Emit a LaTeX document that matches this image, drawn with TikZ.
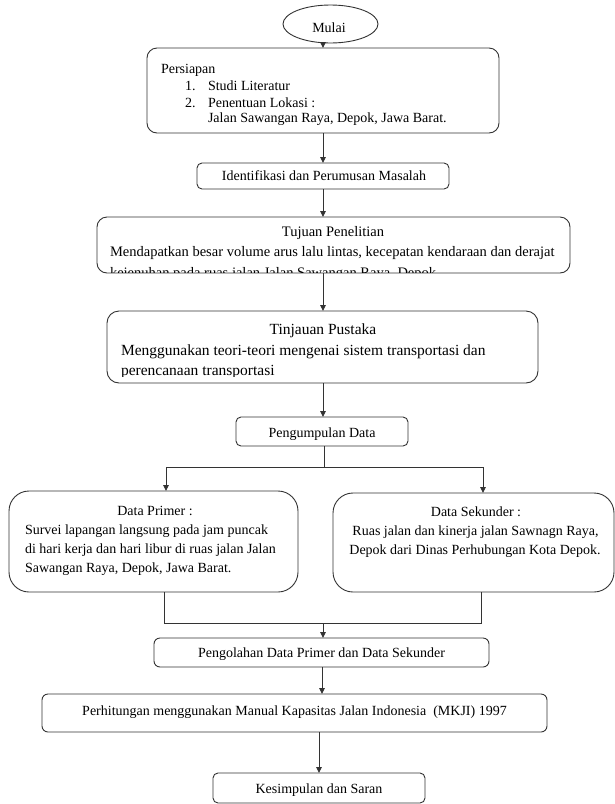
\documentclass[tikz,border=0pt]{standalone}
\usepackage{fontspec}
\setmainfont{Liberation Serif}
\usetikzlibrary{shapes.geometric,arrows.meta}
\begin{document}
\begin{tikzpicture}[x=1pt,y=-1pt,
  box/.style={draw=black!80,line width=0.9pt,rectangle,inner sep=0pt,outer sep=0pt},
  txt/.style={inner sep=0pt,outer sep=0pt,font=\fontsize{14}{16}\selectfont,text=black},
  midtxt/.style={txt,font=\fontsize{14.5}{17}\selectfont},
  bigtxt/.style={txt,font=\fontsize{15.5}{18}\selectfont},
  arr/.style={draw=black!80,line width=0.9pt,-{Triangle[length=6pt,width=5.5pt]}},
  ln/.style={draw=black!80,line width=0.9pt}]
\useasboundingbox (0,0) rectangle (615,804);
\fill[white] (0,0) rectangle (615,804);

% boxes
\node[box,ellipse,minimum width=95pt,minimum height=38pt] (mulai) at (330.5,24) {};
\node[box,rounded corners=10pt,minimum width=352pt,minimum height=85pt] (persiapan) at (323,90.5) {};
\node[box,rounded corners=5pt,minimum width=252pt,minimum height=26pt] (ident) at (323,176) {};
\node[box,rounded corners=10pt,minimum width=473pt,minimum height=56pt] (tujuan) at (333.5,245) {};
\node[box,rounded corners=12pt,minimum width=431pt,minimum height=72pt] (tinjauan) at (322.5,347) {};
\node[box,rounded corners=5pt,minimum width=172pt,minimum height=29pt] (kumpul) at (322,431.5) {};
\node[box,rounded corners=20pt,minimum width=289pt,minimum height=101pt] (primer) at (153.5,541.5) {};
\node[box,rounded corners=20pt,minimum width=281pt,minimum height=99pt] (sekunder) at (473.5,542.5) {};
\node[box,rounded corners=6pt,minimum width=335pt,minimum height=29pt] (olah) at (321.5,652.5) {};
\node[box,rounded corners=6pt,minimum width=505pt,minimum height=38pt] (hitung) at (294.5,713) {};
\node[box,rounded corners=5pt,minimum width=212pt,minimum height=30pt] (simpul) at (319,788) {};

% connectors
\coordinate (ax) at (323,0);
\coordinate (bx) at (322,0);
\coordinate (cx) at (319,0);
\draw[arr] (mulai.south -| persiapan.north) -- (persiapan.north);
\draw[arr] (persiapan.south) -- (ident.north);
\draw[arr] (ident.south) -- (ident.south |- tujuan.north);
\draw[arr] (tujuan.south -| ax) -- (tinjauan.north -| ax);
\draw[arr] (tinjauan.south -| ax) -- (kumpul.north -| ax);
\coordinate (sm) at (324,467);
\coordinate (sl) at (166,467);
\coordinate (sr) at (483,467);
\draw[ln] (kumpul.south -| sm) -- (sm);
\draw[arr] (sm) -- (sl) -- (sl |- primer.north);
\draw[arr] (sm) -- (sr) -- (sr |- sekunder.north);
\coordinate (ml) at (164,623);
\coordinate (mr) at (481,623);
\coordinate (mm) at (323,623);
\draw[ln] (primer.south -| ml) -- (ml) -- (mr) -- (sekunder.south -| mr);
\draw[arr] (mm) -- (olah.north -| mm);
\draw[arr] (olah.south -| bx) -- (hitung.north -| bx);
\draw[arr] (hitung.south -| cx) -- (simpul.north -| cx);

% texts
\node[txt,anchor=base] (tmulai) at (329,32) {Mulai};
\node[txt,anchor=base west] (tp0) at (161,73) {Persiapan};
\node[txt,anchor=base west] (tp1n) at (185,90) {1.};
\node[txt,anchor=base west] (tp1) at (208,90) {Studi Literatur};
\node[txt,anchor=base west] (tp2n) at (185,107) {2.};
\node[txt,anchor=base west] (tp2) at (208,107) {Penentuan Lokasi :};
\node[txt,anchor=base west] (tp3) at (208,122) {Jalan Sawangan Raya, Depok, Jawa Barat.};
\node[txt,anchor=base] (tident) at (324,180) {Identifikasi dan Perumusan Masalah};
\node[midtxt,anchor=base] (ttuj0) at (333,236) {Tujuan Penelitian};
\node[midtxt,anchor=base west] (ttuj1) at (110,256) {Mendapatkan besar volume arus lalu lintas, kecepatan kendaraan dan derajat};
\begin{scope}
  \clip (98,218) rectangle (569,272.5);
  \node[midtxt,anchor=base west] (ttuj2) at (110,277) {kejenuhan pada ruas jalan Jalan Sawangan Raya, Depok};
\end{scope}
\node[bigtxt,anchor=base] (ttin0) at (323,334) {Tinjauan Pustaka};
\node[bigtxt,anchor=base west] (ttin1) at (121,355) {Menggunakan teori-teori mengenai sistem transportasi dan};
\begin{scope}
  \clip (108,312) rectangle (537,376);
  \node[bigtxt,anchor=base west] (ttin2) at (121,375) {perencanaan transportasi};
\end{scope}
\node[txt,anchor=base] (tkumpul) at (322,437) {Pengumpulan Data};
\node[txt,anchor=base] (tpr0) at (155,515) {Data Primer :};
\node[txt,anchor=base west] (tpr1) at (25,534) {Survei lapangan langsung pada jam puncak};
\node[txt,anchor=base west] (tpr2) at (25,553) {di hari kerja dan hari libur di ruas jalan Jalan};
\node[txt,anchor=base west] (tpr3) at (25,572) {Sawangan Raya, Depok, Jawa Barat.};
\node[txt,anchor=base] (tse0) at (476,516) {Data Sekunder :};
\node[txt,anchor=base] (tse1) at (475.5,535) {Ruas jalan dan kinerja jalan Sawnagn Raya,};
\node[txt,anchor=base] (tse2) at (475,554) {Depok dari Dinas Perhubungan Kota Depok.};
\node[txt,anchor=base] (tolah) at (321.5,657) {Pengolahan Data Primer dan Data Sekunder};
\node[txt,anchor=base] (thitung) at (294.5,715) {Perhitungan menggunakan Manual Kapasitas Jalan Indonesia \ (MKJI) 1997};
\node[txt,anchor=base] (tsimpul) at (319,793) {Kesimpulan dan Saran};
\end{tikzpicture}
\end{document}
